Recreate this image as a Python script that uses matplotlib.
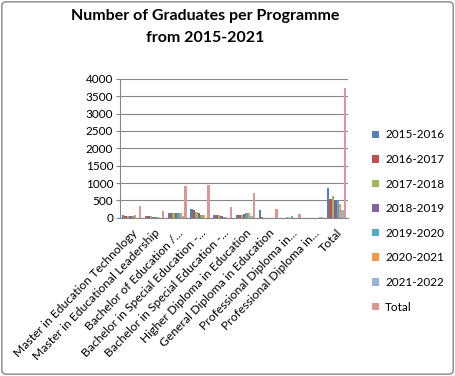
import numpy as np
import matplotlib
matplotlib.use("Agg")
import matplotlib.pyplot as plt
from matplotlib.patches import FancyBboxPatch

plt.rcParams['font.family'] = ['Lato', 'DejaVu Sans']

programmes = [
    "Master in Education Technology",
    "Master in Educational Leadership",
    "Bachelor of Education /...",
    "Bachelor in Special Education -...",
    "Bachelor in Special Education -...",
    "Higher Diploma in Education",
    "General Diploma in Education",
    "Professional Diploma in...",
    "Professional Diploma in...",
    "Total",
]
years = ["2015-2016", "2016-2017", "2017-2018", "2018-2019",
         "2019-2020", "2020-2021", "2021-2022", "Total"]

# one list per series, one value per programme
y2015 = [70, 40, 150, 245, 70, 70, 220, 0, 0, 860]
y2016 = [40, 40, 130, 210, 70, 70, 20, 0, 0, 550]
y2017 = [50, 40, 130, 170, 70, 90, 0, 20, 0, 615]
y2018 = [50, 30, 150, 140, 40, 100, 0, 0, 0, 520]
y2019 = [50, 20, 140, 90, 30, 130, 0, 40, 0, 480]
y2020 = [70, 10, 140, 80, 20, 130, 0, 0, 0, 405]
y2021 = [0, 0, 40, 0, 0, 60, 0, 0, 30, 220]
total = [330, 185, 900, 930, 300, 700, 245, 105, 30, 3730]

series = [y2015, y2016, y2017, y2018, y2019, y2020, y2021, total]
colors = ['#4F81BD', '#C0504D', '#9BBB59', '#8064A2',
          '#4BACC6', '#F79646', '#95B3D7', '#D99694']

fig = plt.figure(figsize=(4.55, 3.76), dpi=100)
ax = fig.add_axes([0.264, 0.421, 0.501, 0.369])

x = np.arange(len(programmes))
w = 1 / 9.5
for j, (vals, c, lab) in enumerate(zip(series, colors, years)):
    ax.bar(x + (j - 3.5) * w, vals, width=w, color=c, label=lab, zorder=3)

ax.set_xlim(-0.5, len(programmes) - 0.5)
ax.set_ylim(0, 4000)
ax.set_yticks(np.arange(0, 4001, 500))
ax.yaxis.grid(True, color='#868686', linewidth=0.8, zorder=0)
for s in ['top', 'right']:
    ax.spines[s].set_visible(False)
for s in ['left', 'bottom']:
    ax.spines[s].set_color('#868686')
    ax.spines[s].set_linewidth(0.8)
ax.tick_params(axis='y', length=3, color='#868686', labelsize=8.5, pad=2)
ax.tick_params(axis='x', length=0, labelsize=8.7, pad=7)
ax.set_xticks(x)
ax.set_xticklabels(programmes, rotation=46, ha='right', rotation_mode='anchor')

fig.text(0.45, 0.975, "Number of Graduates per Programme\nfrom 2015-2021",
         ha='center', va='top', fontsize=11.5, fontweight='bold',
         linespacing=1.65)

leg = ax.legend(loc='upper left', bbox_to_anchor=(1.085, 0.67), frameon=False,
                fontsize=8.5, handlelength=0.6, handleheight=0.6,
                handletextpad=0.5, labelspacing=1.15, borderaxespad=0)

fig.patches.append(FancyBboxPatch((0.004, 0.005), 0.992, 0.99,
                                  boxstyle="round,pad=0,rounding_size=0.01",
                                  transform=fig.transFigure, fill=False,
                                  edgecolor='#868686', linewidth=1))

fig.savefig("out.png", dpi=100)
